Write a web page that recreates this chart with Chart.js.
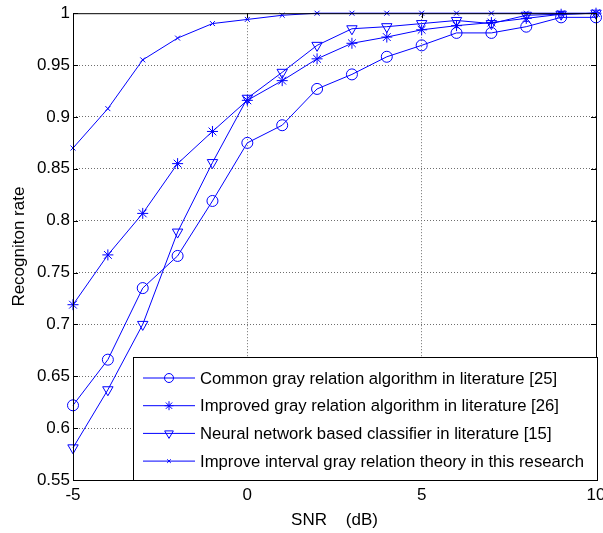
<!DOCTYPE html>
<html>
<head>
<meta charset="utf-8">
<script src="https://cdn.jsdelivr.net/npm/chart.js@4.4.0/dist/chart.umd.min.js"></script>
<style>
  body { margin: 0; background: #fff; }
</style>
</head>
<body>
<canvas id="rateChart" width="603" height="533"></canvas>
<script>
// SNR values (dB) on the x axis
const snr = [-5, -4, -3, -2, -1, 0, 1, 2, 3, 4, 5, 6, 7, 8, 9, 10];

// recognition rate for each method
const commonGray = [0.622, 0.666, 0.735, 0.766, 0.819, 0.875, 0.892, 0.927, 0.941, 0.958, 0.969, 0.981, 0.981, 0.987, 0.996, 0.996];
const improvedGray = [0.719, 0.767, 0.807, 0.855, 0.886, 0.916, 0.935, 0.956, 0.971, 0.977, 0.984, 0.988, 0.991, 0.995, 0.999, 1.0];
const neuralNet = [0.581, 0.637, 0.700, 0.789, 0.856, 0.918, 0.943, 0.969, 0.985, 0.987, 0.990, 0.993, 0.990, 0.998, 0.999, 1.0];
const intervalGray = [0.870, 0.908, 0.955, 0.976, 0.990, 0.994, 0.998, 1.0, 1.0, 1.0, 1.0, 1.0, 1.0, 1.0, 1.0, 1.0];

const seriesNames = [
  "Common gray relation algorithm in literature [25]",
  "Improved gray relation algorithm in literature [26]",
  "Neural network based classifier in literature [15]",
  "Improve interval gray relation theory in this research",
];

const xTicks = [-5, 0, 5, 10];
const yMin = 0.55, yMax = 1;

const blue = "#0000ff";
const fam = "Arial, 'Liberation Sans', sans-serif";
const font = { family: fam, size: 17 };

function toPoints(vals) {
  return snr.map((x, i) => ({ x: x, y: vals[i] }));
}

function makeSet(label, vals, style, radius, rotation) {
  return {
    label: label,
    data: toPoints(vals),
    borderColor: blue,
    backgroundColor: "transparent",
    borderWidth: 1,
    pointStyle: style,
    pointRadius: radius,
    pointRotation: rotation || 0,
    pointBorderColor: blue,
    pointBackgroundColor: "transparent",
    pointBorderWidth: 1,
    tension: 0,
    clip: false,
  };
}

// box, inward tick marks and legend drawn like the original figure
const matlabBox = {
  id: "matlabBox",
  afterDraw(chart) {
    const c = chart.ctx;
    const a = chart.chartArea;
    const xs = chart.scales.x, ys = chart.scales.y;
    c.save();
    c.strokeStyle = "#000";
    c.lineWidth = 1;
    c.beginPath();
    c.rect(a.left + 0.5, a.top + 0.5, a.right - a.left, a.bottom - a.top);
    c.stroke();

    c.beginPath();
    xs.ticks.forEach(t => {
      const px = Math.round(xs.getPixelForValue(t.value)) + 0.5;
      c.moveTo(px, a.bottom); c.lineTo(px, a.bottom - 5);
      c.moveTo(px, a.top); c.lineTo(px, a.top + 5);
    });
    ys.ticks.forEach(t => {
      const py = Math.round(ys.getPixelForValue(t.value)) + 0.5;
      c.moveTo(a.left, py); c.lineTo(a.left + 5, py);
      c.moveTo(a.right, py); c.lineTo(a.right - 5, py);
    });
    c.stroke();

    // legend
    const lx = 133, ly = 357, lw = 464, lh = 123;
    c.fillStyle = "#fff";
    c.fillRect(lx, ly, lw, lh);
    c.strokeStyle = "#000";
    c.strokeRect(lx + 0.5, ly + 0.5, lw, lh);
    c.textBaseline = "middle";
    c.textAlign = "left";
    chart.data.datasets.forEach((ds, i) => {
      const ry = ly + 21 + i * 27.7;
      c.strokeStyle = blue;
      c.fillStyle = "rgba(0,0,0,0)";
      c.lineWidth = 1;
      c.beginPath();
      c.moveTo(143, ry); c.lineTo(195, ry);
      c.stroke();
      Chart.helpers.drawPoint(c, {
        pointStyle: ds.pointStyle,
        radius: ds.pointRadius - 1,
        rotation: ds.pointRotation,
        borderWidth: 1,
      }, 169, ry);
      c.fillStyle = "#000";
      c.font = "16.7px " + fam;
      c.fillText(ds.label, 200, ry + 1);
    });
    c.restore();
  },
};

const ctx = document.getElementById("rateChart").getContext("2d");
const rateChart = new Chart(ctx, {
  type: "line",
  data: {
    datasets: [
      makeSet(seriesNames[0], commonGray, "circle", 5.5),
      makeSet(seriesNames[1], improvedGray, "star", 5.5),
      makeSet(seriesNames[2], neuralNet, "triangle", 6, 180),
      makeSet(seriesNames[3], intervalGray, "crossRot", 3.5),
    ],
  },
  options: {
    responsive: false,
    animation: false,
    layout: { padding: { left: 0, right: 5, top: 13, bottom: 0 } },
    plugins: {
      legend: { display: false },
      tooltip: { enabled: false },
    },
    scales: {
      x: {
        type: "linear",
        min: -5,
        max: 10,
        afterBuildTicks: s => { s.ticks = xTicks.map(v => ({ value: v })); },
        afterFit: s => { s.height = 53; s.paddingLeft = 0; s.paddingRight = 0; },
        ticks: { color: "#000", font: font, padding: 5, maxRotation: 0 },
        grid: {
          drawTicks: false,
          color: c => (c.tick && (c.tick.value === -5 || c.tick.value === 10)) ? "transparent" : "#6e6e6e",
        },
        border: { display: false, dash: [1, 2] },
        title: { display: true, text: "SNR    (dB)", color: "#000", font: font, padding: { top: 0, bottom: 2 } },
      },
      y: {
        min: yMin,
        max: yMax,
        afterFit: s => { s.width = 73; },
        ticks: {
          color: "#000",
          font: font,
          padding: 3,
          stepSize: 0.05,
          callback: v => String(Number(v.toFixed(2))),
        },
        grid: {
          drawTicks: false,
          color: c => (c.tick && (Math.abs(c.tick.value - yMin) < 1e-6 || Math.abs(c.tick.value - yMax) < 1e-6)) ? "transparent" : "#6e6e6e",
        },
        border: { display: false, dash: [1, 2] },
        title: { display: true, text: "Recogniton rate", color: "#000", font: font, padding: { top: 9, bottom: 0 } },
      },
    },
  },
  plugins: [matlabBox],
});
</script>
</body>
</html>
